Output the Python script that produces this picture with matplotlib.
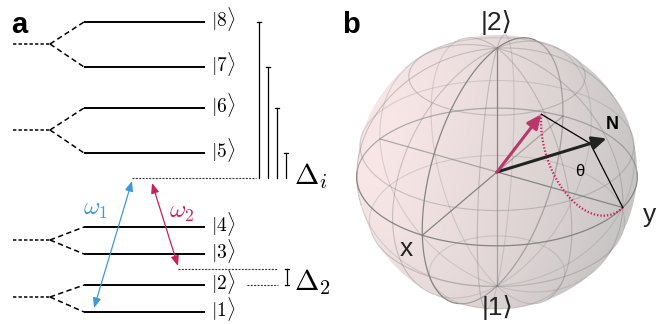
import numpy as np
import matplotlib
matplotlib.use('Agg')
import matplotlib.pyplot as plt

plt.rcParams['mathtext.fontset'] = 'cm'

# ---------------- panel a : level scheme ----------------
level_names = ['1', '2', '3', '4', '5', '6', '7', '8']
level_y = [312, 285, 254, 227, 153, 108, 67, 22]          # energies (drawn top-down)
pair_center_y = [297, 240, 130, 44]                        # unsplit parent levels
virtual_y = 178                                            # intermediate virtual level
detuned_y = 269                                            # two-photon detuned level
bar_x = [259, 268, 277, 286]                               # Delta_i bars for |8>,|7>,|6>,|5>
bar_levels = [8, 7, 6, 5]

BLUE = '#3d98d3'
CRIMSON = '#c8205a'

# ---------------- panel b : Bloch sphere ----------------
n_elev_deg = 31.0        # N axis in the y-z plane (qutip coords)
rot_deg = -139.0         # rotation of state about N ending on +y
meridian_deg = [0, 37.5, 75, 112.5, 150, 180, -142.5, -105, -67.5, -30]
latitude_deg = [37.5, 75, 112.5, 150]

fig = plt.figure(figsize=(6.67, 3.24), dpi=100)
ax = fig.add_axes([0, 0, 1, 1])
ax.set_xlim(0, 667)
ax.set_ylim(324, 0)
ax.axis('off')

LX0, LX1 = 84, 205
for y, name in zip(level_y, level_names):
    ax.plot([LX0, LX1], [y, y], color='k', lw=1.4, solid_capstyle='butt', zorder=3)
    ax.text(211, y + 4.5, rf'$|{name}\rangle$', fontsize=14, va='baseline', ha='left')
for i, yc in enumerate(pair_center_y):
    ya, yb = level_y[2 * i], level_y[2 * i + 1]
    ax.plot([13, 50], [yc, yc], color='k', lw=1.1, ls=(0, (2.2, 1.4)))
    ax.plot([50, LX0], [yc, ya], color='k', lw=1.1, ls=(0, (3.5, 2.2)))
    ax.plot([50, LX0], [yc, yb], color='k', lw=1.1, ls=(0, (3.5, 2.2)))

# virtual & detuned levels
ax.plot([132, 256], [virtual_y, virtual_y], color='#333333', lw=0.8, ls=(0, (1.8, 1.2)))
ax.plot([178, 278], [detuned_y, detuned_y], color='#333333', lw=0.8, ls=(0, (1.8, 1.2)))
ax.plot([247, 278], [level_y[1], level_y[1]], color='#333333', lw=0.8, ls=(0, (1.8, 1.2)))

for x, k in zip(bar_x, bar_levels):
    top = level_y[k - 1]
    ax.plot([x, x], [top, virtual_y], color='k', lw=0.9)
    ax.plot([x - 2.2, x + 2.2], [top, top], color='k', lw=0.9)
ax.plot([287, 287], [detuned_y, level_y[1]], color='k', lw=0.9)
for yy in (detuned_y, level_y[1]):
    ax.plot([285, 289], [yy, yy], color='k', lw=0.9)

ax.text(294, 184, r'$\Delta_i$', fontsize=21, va='baseline', ha='left')
ax.text(294, 290, r'$\Delta_2$', fontsize=21, va='baseline', ha='left')

arr_kw = dict(arrowstyle='<|-|>,head_length=0.6,head_width=0.24', lw=0.9,
              shrinkA=0, shrinkB=0, mutation_scale=10)
ax.annotate('', xy=(132, virtual_y + 3), xytext=(94, level_y[0] - 4),
            arrowprops=dict(color=BLUE, **arr_kw))
ax.annotate('', xy=(152, virtual_y + 5), xytext=(178, detuned_y - 3),
            arrowprops=dict(color=CRIMSON, **arr_kw))
ax.text(83, 215, r'$\omega_1$', color=BLUE, fontsize=18, va='baseline', ha='left')
ax.text(169, 218, r'$\omega_2$', color=CRIMSON, fontsize=18, va='baseline', ha='left')

LABEL_FONT = ['Liberation Sans', 'DejaVu Sans']
ax.text(11, 33, 'a', fontsize=21, fontweight='bold', family=LABEL_FONT, va='baseline')
ax.text(342, 33, 'b', fontsize=21, fontweight='bold', family=LABEL_FONT, va='baseline')

# ---------------- Bloch sphere projection ----------------
az, el = np.radians(-60), np.radians(30)
RIGHT = np.array([-np.sin(az), np.cos(az), 0.0])
UP = np.array([-np.sin(el) * np.cos(az), -np.sin(el) * np.sin(az), np.cos(el)])
VIEW = np.array([np.cos(el) * np.cos(az), np.cos(el) * np.sin(az), np.sin(el)])
CX, CY, SX, SY, K = 497.0, 172.0, 140.0, 137.0, 12.0


def q2m(q):
    q = np.asarray(q, float)
    return np.array([q[1], -q[0], q[2]])


def proj(P):
    P = np.asarray(P, float)
    r = RIGHT @ P
    u = UP @ P
    d = VIEW @ P
    s = K / (K - d)
    return CX + SX * r * s, CY - SY * u * s, d


# shaded sphere body
xs = np.arange(CX - 160, CX + 160) + 0.5
ys = np.arange(CY - 160, CY + 160) + 0.5
XX, YY = np.meshgrid(xs, ys)
a = (XX - CX) / (SX * 1.004)
b = (CY - YY) / (SY * 1.004)
rr = np.sqrt(a ** 2 + b ** 2)
lam = np.clip(0.60 - 0.50 * a + 0.12 * b - 0.12 * rr ** 6, 0, 1)[..., None]
light = np.array([249, 231, 231]) / 255
dark = np.array([199, 196, 196]) / 255
rgb = dark + (light - dark) * lam
alpha = np.clip((1 - rr) * SX, 0, 1)[..., None]
img = np.concatenate([rgb, alpha], axis=2)
ax.imshow(img, extent=(xs[0] - 0.5, xs[-1] + 0.5, ys[-1] + 0.5, ys[0] - 0.5),
          interpolation='bilinear', zorder=0, aspect='auto')
ax.set_xlim(0, 667)
ax.set_ylim(324, 0)


def draw_curve(P, color, lw, a_front, a_back, z=1, ls='-'):
    x, y, d = proj(P)
    front = d >= 0
    xf = np.where(front, x, np.nan)
    yf = np.where(front, y, np.nan)
    xb = np.where(~front, x, np.nan)
    yb = np.where(~front, y, np.nan)
    ax.plot(xb, yb, color=color, lw=lw, alpha=a_back, zorder=z, ls=ls)
    ax.plot(xf, yf, color=color, lw=lw, alpha=a_front, zorder=z + 0.1, ls=ls)


t = np.linspace(0, 2 * np.pi, 400)
v = np.linspace(0, np.pi, 200)
for m in meridian_deg:
    u = np.radians(m)
    draw_curve([np.cos(u) * np.sin(v), np.sin(u) * np.sin(v), np.cos(v)],
               'gray', 0.8, 0.38, 0.25)
for lat in latitude_deg:
    vv = np.radians(lat)
    draw_curve([np.cos(t) * np.sin(vv), np.sin(t) * np.sin(vv), np.cos(vv) + 0 * t],
               'gray', 0.8, 0.38, 0.25)
# frame: equator, x-z great circle, axes
draw_curve([np.cos(t), np.sin(t), 0 * t], 'gray', 0.9, 0.95, 0.6)
draw_curve([0 * t, np.cos(t), np.sin(t)], 'gray', 0.9, 0.95, 0.6)
s = np.linspace(-1, 1, 100)
draw_curve([s, 0 * s, 0 * s], 'gray', 0.9, 0.95, 0.6)
draw_curve([0 * s, s, 0 * s], 'gray', 0.9, 0.95, 0.6)
draw_curve([0 * s, 0 * s, s], 'gray', 0.9, 0.95, 0.6)

# vectors
n_q = np.array([0.0, np.cos(np.radians(n_elev_deg)), np.sin(np.radians(n_elev_deg))])
y_q = np.array([0.0, 1.0, 0.0])


def rot(vec, axis, phi):
    return (vec * np.cos(phi) + np.cross(axis, vec) * np.sin(phi)
            + axis * np.dot(axis, vec) * (1 - np.cos(phi)))


phis = np.radians(np.linspace(0, rot_deg, 150))
arc = np.array([rot(y_q, n_q, p) for p in phis]).T
P_q = arc[:, -1]
C_q = np.dot(n_q, y_q) * n_q

ox, oy, _ = proj(q2m([0, 0, 0]))
ax_, ay_, _ = proj(q2m(arc))
ax.plot(ax_, ay_, color=CRIMSON, lw=1.6, ls=(0, (0.6, 0.9)), zorder=5)

cx_, cy_, _ = proj(q2m(C_q))
px_, py_, _ = proj(q2m(P_q))
yx_, yy_, _ = proj(q2m(y_q))
ax.plot([px_, cx_, yx_], [py_, cy_, yy_], color='k', lw=0.9, zorder=5)

nx_, ny_, _ = proj(q2m(n_q))
vec_kw = dict(arrowstyle='-|>,head_length=0.7,head_width=0.32', lw=2.2,
              shrinkA=0, shrinkB=0, mutation_scale=12)
ax.annotate('', xy=(nx_, ny_), xytext=(ox, oy),
            arrowprops=dict(color='#222222', **vec_kw), zorder=6)
ax.annotate('', xy=(px_, py_), xytext=(ox, oy),
            arrowprops=dict(color='#b8386c', **vec_kw), zorder=6)

ax.text(nx_ + 6, ny_ - 14, 'N', fontsize=13, fontweight='bold', family=LABEL_FONT,
        ha='center', va='center', zorder=7)
ax.text(cx_ - 11, cy_ + 28, 'θ', fontsize=12, family=LABEL_FONT,
        ha='center', va='center', zorder=7)

for q, lab in [([0, 0, 1.2], '|2⟩'), ([0, 0, -1.2], '|1⟩'),
               ([1.2, 0, 0], 'x'), ([0, 1.2, 0], 'y')]:
    lx, ly, _ = proj(q2m(q))
    ax.text(lx, ly, lab, fontsize=19, family=LABEL_FONT, ha='center', va='center',
            color='#222222', zorder=7)

fig.savefig('out.png', dpi=100)
